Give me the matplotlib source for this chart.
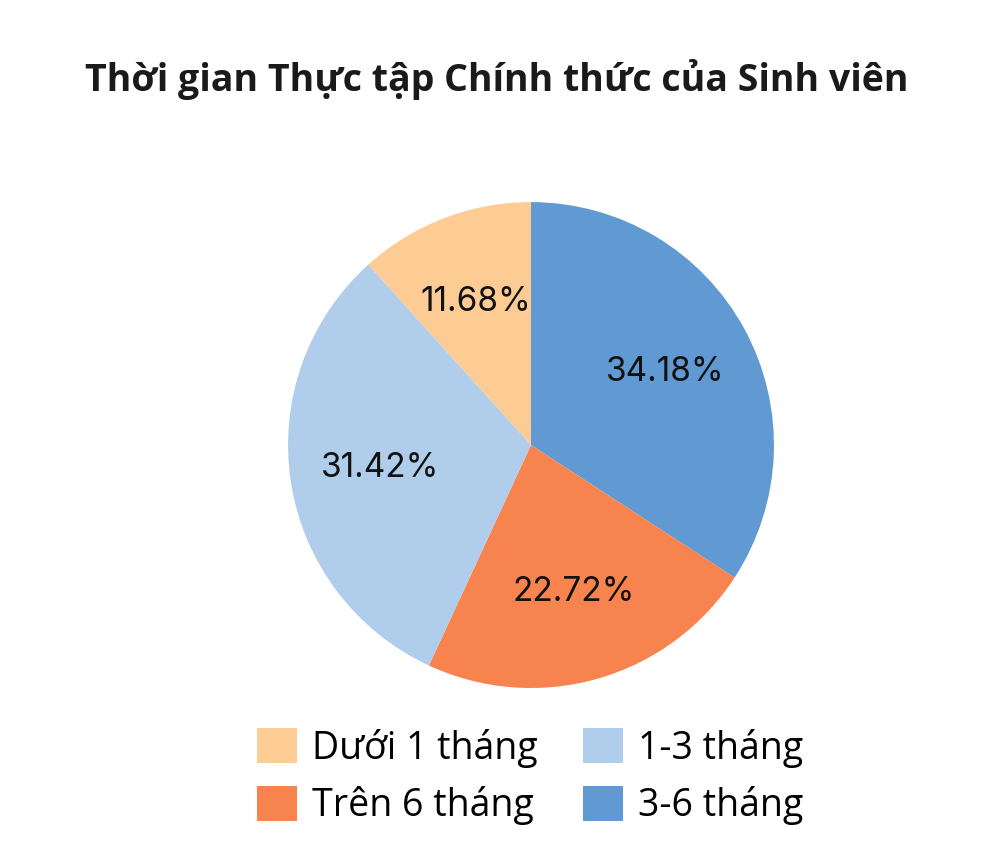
import matplotlib
matplotlib.use("Agg")
import matplotlib.pyplot as plt

# Data (clockwise from 12 o'clock)
labels = ['3-6 tháng', 'Trên 6 tháng', '1-3 tháng', 'Dưới 1 tháng']
values = [34.18, 22.72, 31.42, 11.68]
colors = ['#6199D3', '#F7834F', '#B0CDEB', '#FDCB94']

# legend order (column-wise fill with 2 columns)
legend_order = ['Dưới 1 tháng', 'Trên 6 tháng', '1-3 tháng', '3-6 tháng']

title = 'Thời gian Thực tập Chính thức của Sinh viên'

plt.rcParams['font.family'] = ['Open Sans', 'DejaVu Sans']

fig = plt.figure(figsize=(10, 8.6), dpi=100)
fig.patch.set_facecolor('white')

ax = fig.add_axes([0.288, 0.2, 0.486, 0.565])
wedges, texts, autotexts = ax.pie(
    values, colors=colors, startangle=90, counterclock=False,
    autopct='%.2f%%', pctdistance=0.63,
    wedgeprops=dict(edgecolor='none'),
    textprops=dict(fontsize=24, color='#111111', family=['Inter', 'DejaVu Sans']))
ax.set_xlim(-1, 1)
ax.set_ylim(-1, 1)
ax.set_aspect('equal')

fig.text(0.497, 0.907, title, ha='center', va='center',
         fontsize=27, fontweight='bold', color='#1a1a1a')

handles = [wedges[labels.index(l)] for l in legend_order]
fig.legend(handles, legend_order, loc='center', bbox_to_anchor=(0.53, 0.097),
           ncol=2, frameon=False, fontsize=27, handlelength=1.07, handleheight=1.07,
           handletextpad=0.4, columnspacing=1.2, labelspacing=0.48)

fig.savefig('out.png', dpi=100, facecolor='white')
